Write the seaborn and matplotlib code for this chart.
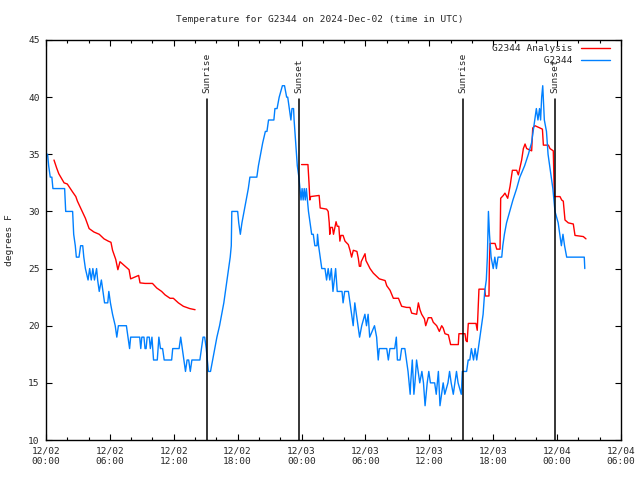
import numpy as np
import pandas as pd
import matplotlib
matplotlib.use("Agg")
import matplotlib.pyplot as plt
import matplotlib.transforms as mtransforms
from matplotlib.lines import Line2D
import seaborn as sns

# ---------------- data (hours since 2024-12-02 00:00 UTC, degrees F) ----------------
obs_hours = [0.0, 0.15, 0.25, 0.4, 0.55, 0.65, 1.75, 1.85, 2.5, 2.6, 2.75, 2.85, 3.1, 3.25, 3.45,
             3.55, 3.7, 3.95, 4.1, 4.25, 4.4, 4.55, 4.75, 4.85, 5.0, 5.2, 5.35, 5.5, 5.8, 5.9,
             6.05, 6.25, 6.5, 6.65, 6.8, 7.55, 7.7, 7.85, 7.95, 8.8, 8.9, 9.0, 9.2, 9.3, 9.4,
             9.5, 9.7, 9.8, 9.95, 10.1, 10.45, 10.6, 10.75, 10.95, 11.1, 11.8, 11.9, 12.5, 12.65,
             12.8, 12.95, 13.1, 13.25, 13.4, 13.55, 13.7, 14.45, 14.6, 14.75, 14.9, 15.05, 15.15,
             15.25, 15.45, 15.65, 15.85, 16.05, 16.3, 16.5, 16.7, 16.85, 17.0, 17.15, 17.3, 17.4,
             17.45, 18.0, 18.1, 18.25, 18.4, 18.6, 18.8, 19.0, 19.15, 19.8, 19.95, 20.15, 20.35,
             20.6, 20.75, 20.9, 21.4, 21.5, 21.7, 21.9, 22.2, 22.4, 22.6, 22.7, 22.85, 23.0, 23.1,
             23.25, 23.3, 23.45, 23.6, 23.75, 23.85, 23.95, 24.05, 24.15, 24.25, 24.35, 24.45,
             24.55, 24.65, 24.8, 24.95, 25.1, 25.25, 25.45, 25.5, 25.6, 25.75, 25.9, 26.2, 26.35,
             26.5, 26.65, 26.8, 26.95, 27.2, 27.35, 27.8, 27.9, 28.05, 28.4, 28.55, 28.7, 28.85,
             29.0, 29.15, 29.3, 29.45, 29.65, 29.95, 30.1, 30.25, 30.4, 30.85, 31.05, 31.2, 31.3,
             32.0, 32.15, 32.3, 32.75, 32.9, 33.0, 33.25, 33.4, 33.7, 33.85, 34.0, 34.2, 34.25,
             34.4, 34.55, 34.65, 34.8, 34.95, 35.1, 35.3, 35.45, 35.6, 35.8, 35.95, 36.1, 36.5,
             36.65, 36.85, 37.0, 37.15, 37.3, 37.45, 37.75, 37.9, 38.05, 38.25, 38.4, 38.55, 38.7,
             39.0, 39.1, 39.5, 39.65, 39.8, 39.95, 40.15, 40.3, 40.45, 40.6, 40.75, 40.9, 41.05,
             41.2, 41.35, 41.45, 41.5, 41.55, 41.65, 41.8, 42.0, 42.15, 42.3, 42.45, 42.8, 42.9,
             43.05, 43.25, 43.55, 43.85, 44.2, 44.5, 44.95, 45.3, 45.6, 45.75, 45.9, 46.05, 46.2,
             46.35, 46.45, 46.55, 46.65, 46.8, 47.0, 47.15, 47.3, 47.45, 47.6, 47.8, 48.1, 48.25,
             48.4, 48.55, 48.7, 48.9, 50.55, 50.6]
obs_temp = [35, 35, 34, 33, 33, 32, 32, 30, 30, 28, 27, 26, 26, 27, 27,
            26, 25, 24, 25, 24, 25, 24, 25, 24, 23, 24, 23, 22, 22, 23,
            22, 21, 20, 19, 20, 20, 19, 18, 19, 19, 18, 19, 19, 18, 18,
            19, 19, 18, 19, 17, 17, 19, 18, 18, 17, 17, 18, 18, 19,
            18, 17, 16, 17, 17, 16, 17, 17, 18, 19, 19, 18, 17,
            16, 16, 17, 18, 19, 20, 21, 22, 23, 24, 25, 26, 27,
            30, 30, 29, 28, 29, 30, 31, 32, 33, 33, 34, 35, 36,
            37, 37, 38, 38, 39, 39, 40, 41, 41, 40, 40, 39, 38, 39,
            39, 38, 36, 34, 33, 32, 31, 32, 31, 32, 31, 32,
            31, 30, 29, 28, 28, 27, 27, 28, 27, 26, 25, 25, 24,
            25, 24, 25, 23, 25, 23, 23, 22, 23, 23, 22, 21, 20,
            22, 21, 20, 19, 20, 21, 20, 21, 19, 20, 19, 17, 18,
            18, 17, 18, 18, 19, 17, 17, 18, 18, 17, 16, 14, 15,
            17, 14, 15, 17, 16, 15, 16, 15, 13, 15, 16, 15, 15,
            14, 16, 13, 14, 15, 14, 15, 16, 15, 14, 15, 16, 15,
            14, 16, 16, 17, 17, 18, 17, 18, 17, 18, 19, 20, 21,
            23, 24, 26, 28, 30, 28, 26, 25, 26, 25, 26, 26, 27,
            28, 29, 30, 31, 32, 33, 34, 35, 36, 37, 38, 39, 38,
            39, 38, 40, 41, 38, 37, 35, 34, 33, 32, 30, 29, 28,
            27, 28, 27, 26, 26, 25]

ana1_hours = [0.75, 1.0, 1.2, 1.7, 2.0, 2.5, 2.8, 2.95, 3.4, 3.7, 4.05, 4.5, 5.0, 5.45, 5.85,
              6.1, 6.25, 6.55, 6.75, 6.95, 7.8, 7.95, 8.2, 8.7, 8.83, 9.3, 10.0, 10.4, 10.86,
              11.18, 11.65, 11.96, 12.43, 12.9, 13.5, 14.0]
ana1_temp = [34.5, 33.8, 33.3, 32.5, 32.4, 31.7, 31.3, 30.9, 30.0, 29.4, 28.5, 28.2, 28.0, 27.6, 27.4,
             27.3, 26.6, 25.8, 24.9, 25.6, 24.9, 24.1, 24.2, 24.4, 23.75, 23.7, 23.7, 23.3, 23.0,
             22.7, 22.4, 22.4, 22.0, 21.7, 21.5, 21.4]

ana2_hours = [24.0, 24.6, 24.7, 24.78, 24.85, 25.65, 25.75, 26.35, 26.5, 26.6, 26.65, 26.72, 26.9,
              27.0, 27.24, 27.35, 27.5, 27.6, 27.7, 27.9, 28.08, 28.39, 28.55, 28.7, 28.86, 29.2,
              29.33, 29.43, 29.55, 29.6, 29.96, 30.05, 30.27, 30.43, 30.74, 31.3, 31.85, 32.0,
              32.31, 32.62, 33.1, 33.4, 33.87, 34.18, 34.34, 34.81, 34.97, 35.12, 35.28, 35.54,
              35.66, 35.9, 36.2, 36.37, 36.69, 36.94, 37.16, 37.3, 37.47, 37.79, 38.0, 38.72,
              38.78, 39.35, 39.44, 39.55, 39.66, 40.38, 40.5, 40.66, 41.2, 41.27, 41.6, 41.64,
              41.7, 42.17, 42.33, 42.64, 42.7, 42.95, 43.1, 43.36, 43.58, 43.8, 44.2, 44.36,
              44.67, 44.83, 44.99, 45.14, 45.61, 45.71, 45.92, 46.39, 46.62, 46.71, 47.18, 47.33,
              47.64, 47.74, 48.27, 48.43, 48.58, 48.74, 49.05, 49.52, 49.68, 50.46, 50.71]
ana2_temp = [34.1, 34.1, 32.5, 31.0, 31.3, 31.4, 30.3, 30.2, 30.0, 29.0, 28.0, 28.6, 28.6,
             28.0, 29.1, 28.7, 28.7, 27.4, 27.9, 27.9, 27.4, 27.1, 26.6, 26.0, 26.6, 26.5,
             25.9, 25.2, 25.2, 25.6, 26.3, 25.7, 25.3, 25.0, 24.6, 24.1, 23.95, 23.5,
             23.1, 22.4, 22.4, 21.7, 21.6, 21.6, 21.1, 21.0, 22.0, 21.4, 21.0, 20.6,
             20.0, 20.7, 20.7, 20.3, 20.0, 19.5, 20.0, 19.8, 19.3, 19.2, 18.35, 18.35,
             19.3, 19.3, 18.7, 18.6, 20.2, 20.2, 19.6, 23.2, 23.2, 22.6, 22.6, 25.5,
             27.2, 27.2, 26.7, 26.7, 31.15, 31.4, 31.6, 31.15, 32.2, 33.6, 33.6, 33.2,
             34.5, 35.5, 35.9, 35.5, 35.3, 37.3, 37.5, 37.3, 37.2, 35.8, 35.8, 35.5,
             35.3, 31.3, 31.3, 31.0, 30.9, 29.25, 29.0, 28.9, 27.9, 27.8, 27.6]

sun_events = ["Sunrise", "Sunset", "Sunrise", "Sunset"]
sun_hours = [15.13, 23.78, 39.17, 47.76]

xtick_hours = [0, 6, 12, 18, 24, 30, 36, 42, 48, 54]
xtick_labels = ["12/02\n00:00", "12/02\n06:00", "12/02\n12:00", "12/02\n18:00",
                "12/03\n00:00", "12/03\n06:00", "12/03\n12:00", "12/03\n18:00",
                "12/04\n00:00", "12/04\n06:00"]
ytick_values = [10, 15, 20, 25, 30, 35, 40, 45]

title = "Temperature for G2344 on 2024-Dec-02 (time in UTC)"
series_names = ["G2344 Analysis", "G2344"]
RED = "#ff0000"
BLUE = "#0080ff"

# ---------------- style ----------------
sns.set_style("ticks")
plt.rcParams["font.family"] = ["DejaVu Sans Mono"]
FS = 6.8

fig = plt.figure(figsize=(6.4, 4.8), dpi=100)
ax = fig.add_axes([46 / 640, 40 / 480, 575 / 640, 400 / 480])

obs_df = pd.DataFrame({"hours": obs_hours, "temp": obs_temp})
a1_df = pd.DataFrame({"hours": ana1_hours, "temp": ana1_temp})
a2_df = pd.DataFrame({"hours": ana2_hours, "temp": ana2_temp})

sns.lineplot(data=a1_df, x="hours", y="temp", ax=ax, color=RED, lw=1.0,
             estimator=None, sort=False)
sns.lineplot(data=a2_df, x="hours", y="temp", ax=ax, color=RED, lw=1.0,
             estimator=None, sort=False)
sns.lineplot(data=obs_df, x="hours", y="temp", ax=ax, color=BLUE, lw=1.0,
             estimator=None, sort=False)

trans = mtransforms.blended_transform_factory(ax.transData, ax.transAxes)
for name, h in zip(sun_events, sun_hours):
    ax.axvline(h, ymin=0, ymax=0.8525, color="black", lw=1.1)
    ax.text(h, 0.868, name, transform=trans, rotation=90, ha="center", va="bottom",
            fontsize=FS)

ax.set_xlim(0, 54)
ax.set_ylim(10, 45)
ax.set_xticks(xtick_hours)
ax.set_xticklabels(xtick_labels, fontsize=FS)
ax.set_xticks(np.arange(0, 55, 2), minor=True)
ax.set_yticks(ytick_values)
ax.set_yticklabels([str(v) for v in ytick_values], fontsize=FS)
ax.tick_params(which="both", direction="in", top=True, right=True, color="black",
               width=0.8)
ax.tick_params(which="major", length=4.0)
ax.tick_params(which="minor", length=2.2)
ax.tick_params(axis="x", which="major", pad=5)
ax.tick_params(axis="y", which="major", pad=4.5)
ax.set_xlabel("")
ax.set_ylabel("")
for sp in ax.spines.values():
    sp.set_visible(True)
    sp.set_color("black")
    sp.set_linewidth(1.0)

fig.text(0.5, 1 - 20 / 480, title, ha="center", va="center", fontsize=FS)
fig.text(10 / 640, 0.5, "degrees F", rotation=90, ha="center", va="center", fontsize=FS)

width = max(len(s) for s in series_names)
handles = [Line2D([], [], color=RED, lw=1.0), Line2D([], [], color=BLUE, lw=1.0)]
labels = [s.rjust(width) for s in series_names]
ax.legend(handles, labels, loc="upper right", bbox_to_anchor=(0.981, 0.99),
          frameon=False, markerfirst=False, fontsize=FS, handlelength=3.1,
          handletextpad=0.9, labelspacing=0.35, borderaxespad=0, borderpad=0)

fig.savefig("out.png", dpi=100, facecolor="white")
